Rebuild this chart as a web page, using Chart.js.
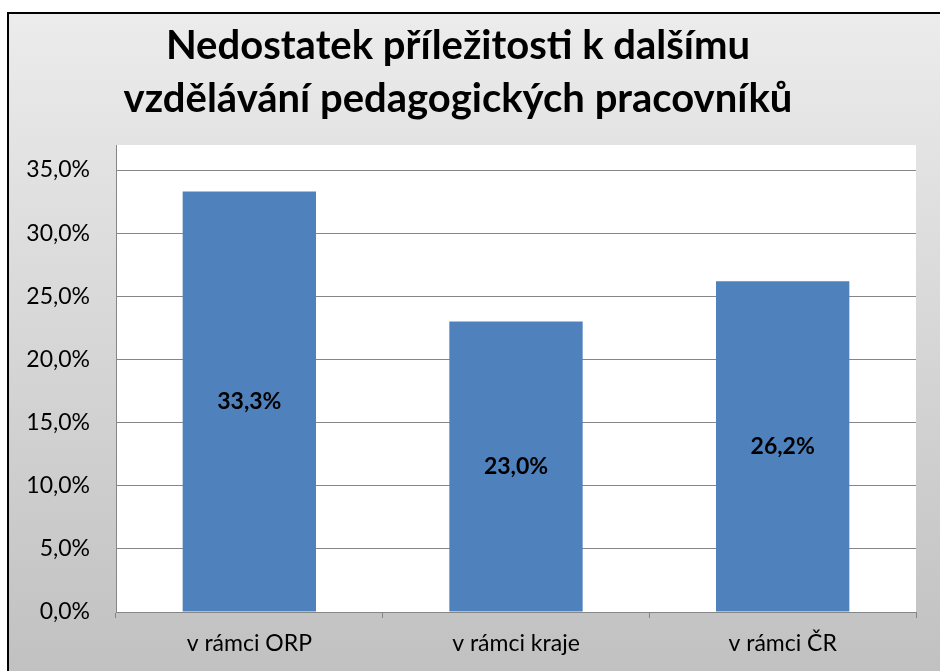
<!DOCTYPE html>
<html>
<head>
<meta charset="utf-8">
<script src="https://cdn.jsdelivr.net/npm/chart.js@4/dist/chart.umd.min.js"></script>
<style>
  html, body { margin: 0; padding: 0; background: #fff; }
  canvas { display: block; }
</style>
</head>
<body>
<canvas id="chart" width="940" height="671"></canvas>
<script>
(function () {
  var categories = ['v rámci ORP', 'v rámci kraje', 'v rámci ČR'];
  var values = [33.3, 23.0, 26.2];
  var titleLines = ['Nedostatek příležitosti k dalšímu', 'vzdělávání pedagogických pracovníků'];

  function pct(v) {
    return v.toFixed(1).replace('.', ',') + '%';
  }

  // gradient background, frame and white plot area (like the Excel original)
  var backdrop = {
    id: 'backdrop',
    beforeDraw: function (chart) {
      var ctx = chart.ctx;
      var a = chart.chartArea;
      ctx.save();
      ctx.fillStyle = '#ffffff';
      ctx.fillRect(0, 0, chart.width, chart.height);
      var g = ctx.createLinearGradient(0, 12, 0, chart.height);
      g.addColorStop(0, '#ececec');
      g.addColorStop(1, '#c1c1c1');
      ctx.fillStyle = g;
      ctx.fillRect(7, 12, chart.width - 7, chart.height - 12);
      ctx.strokeStyle = '#000';
      ctx.lineWidth = 2;
      ctx.beginPath();
      ctx.moveTo(8, chart.height);
      ctx.lineTo(8, 13);
      ctx.lineTo(chart.width, 13);
      ctx.stroke();
      ctx.fillStyle = '#ffffff';
      ctx.fillRect(a.left, a.top - 25, a.right - a.left, a.bottom - a.top + 25);
      ctx.strokeStyle = '#868686';
      ctx.lineWidth = 1;
      ctx.beginPath();
      ctx.moveTo(a.left + 0.5, a.top - 25);
      ctx.lineTo(a.left + 0.5, a.bottom);
      ctx.stroke();
      ctx.restore();
    }
  };

  var barLabels = {
    id: 'barLabels',
    afterDatasetsDraw: function (chart) {
      var ctx = chart.ctx;
      ctx.save();
      ctx.font = 'bold 23px Lato';
      ctx.fillStyle = '#000';
      ctx.textAlign = 'center';
      ctx.textBaseline = 'middle';
      chart.getDatasetMeta(0).data.forEach(function (bar, i) {
        ctx.fillText(pct(values[i]), bar.x, (bar.y + bar.base) / 2);
      });
      ctx.restore();
    }
  };

  new Chart(document.getElementById('chart'), {
    type: 'bar',
    data: {
      labels: categories,
      datasets: [
        {
          data: values,
          backgroundColor: '#4f81bd',
          borderWidth: 0,
          barPercentage: 0.5,
          categoryPercentage: 1
        }
      ]
    },
    options: {
      responsive: false,
      animation: false,
      layout: {
        padding: { left: 0, right: 24, top: 0, bottom: 0 }
      },
      plugins: {
        legend: { display: false },
        tooltip: { enabled: false },
        title: {
          display: true,
          text: titleLines,
          color: '#000',
          font: { family: 'Lato', size: 40, weight: 'bold', lineHeight: 1.325 },
          padding: { top: 20, bottom: 44 }
        }
      },
      scales: {
        x: {
          grid: {
            offset: true,
            drawOnChartArea: false,
            tickLength: 6,
            color: '#868686'
          },
          border: { color: '#868686' },
          ticks: {
            color: '#000',
            padding: 12,
            font: { family: 'Lato', size: 23 }
          },
          afterFit: function (scale) { scale.height = 59; }
        },
        y: {
          min: 0,
          max: 35,
          grid: {
            drawTicks: false,
            color: '#868686'
          },
          border: { display: false },
          ticks: {
            stepSize: 5,
            color: '#000',
            padding: 26,
            font: { family: 'Lato', size: 23 },
            callback: function (v) { return pct(v); }
          },
          afterFit: function (scale) { scale.width = 116; }
        }
      }
    },
    plugins: [backdrop, barLabels]
  });
})();
</script>
</body>
</html>
